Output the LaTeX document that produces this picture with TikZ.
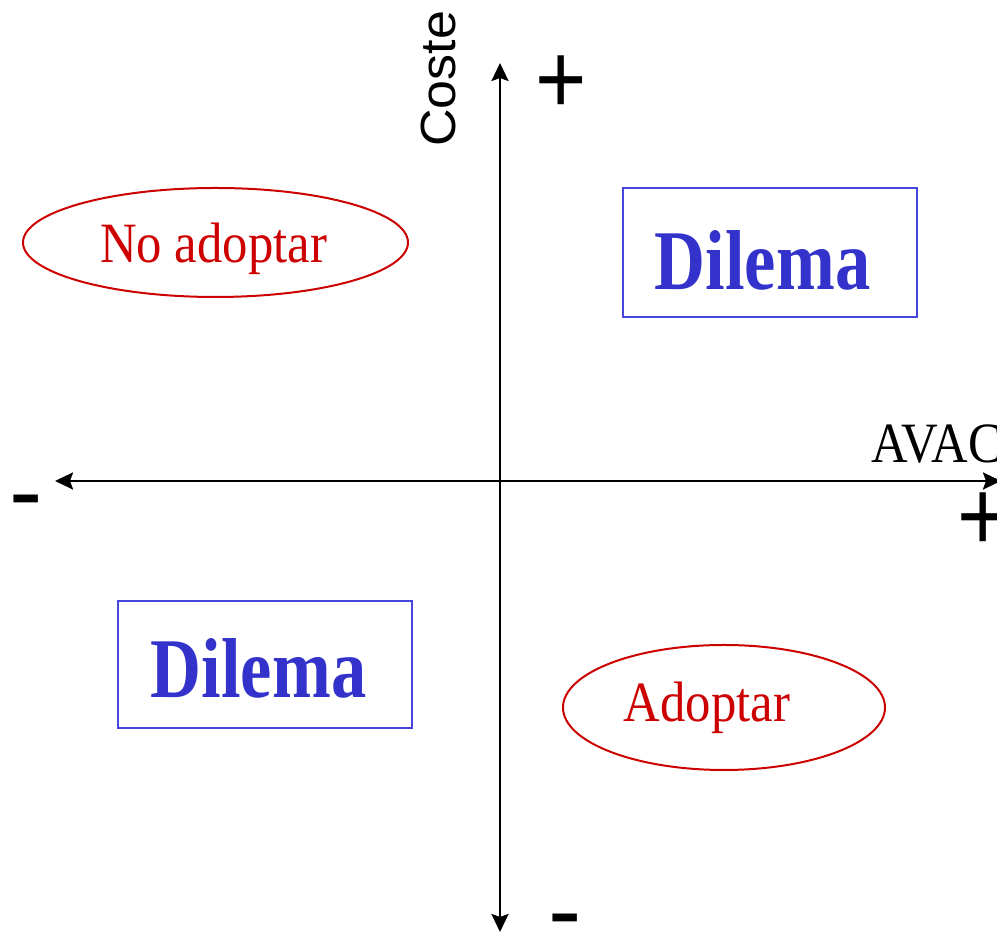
\documentclass[tikz,border=0pt]{standalone}
\usepackage{fontspec}
\setmainfont{Liberation Serif}
\newfontfamily\arialf{Liberation Sans}
\usetikzlibrary{shapes.geometric,arrows.meta}
\definecolor{myred}{RGB}{204,0,0}
\definecolor{myblue}{RGB}{51,51,204}
\definecolor{boxblue}{RGB}{70,70,220}
\begin{document}
\begin{tikzpicture}[x=1pt,y=1pt,
  axisline/.style={line width=2.6pt,black,-{Stealth[length=18pt,width=17pt,inset=3pt]}},
  bluebox/.style={draw=boxblue,line width=2.5pt,rectangle,inner sep=0pt},
  redell/.style={draw=myred,line width=2pt,ellipse,inner sep=0pt},
  dilemat/.style={inner sep=0pt,anchor=base,text=myblue,font=\bfseries\fontsize{85}{85}\selectfont},
  redt/.style={inner sep=0pt,anchor=base,text=myred,font=\fontsize{57}{57}\selectfont},
  signt/.style={inner sep=0pt,anchor=base,font=\arialf\fontsize{100}{100}\selectfont}]
\useasboundingbox (0,0) rectangle (997,934);
% axes
\coordinate (O) at (500,453);
\coordinate (L) at (55,453);
\coordinate (R) at (1001,453);
\coordinate (T) at (500,871);
\coordinate (B) at (500,2);
\draw[axisline] (O) -- (R);
\draw[axisline] (O) -- (L);
\draw[axisline] (O) -- (T);
\draw[axisline] (O) -- (B);
% labels of axes
\node[inner sep=0pt,anchor=base west,rotate=90,font=\arialf\fontsize{52}{52}\selectfont] (coste) at (455,787) {\scalebox{1}[0.95]{Coste}};
\node[inner sep=0pt,anchor=base west,font=\fontsize{57}{57}\selectfont] (avac) at (871,471) {\scalebox{0.89}[1]{AVAC}};
\node[signt] (ptop) at (561,820) {\scalebox{0.88}[1]{+}};
\node[signt] (pright) at (983,383) {\scalebox{0.88}[1]{+}};
\node[signt] (mleft) at (26.5,408) {-};
\node[signt,anchor=center] (mbot) at (565,16.5) {\raisebox{-0.272em}[0.045em][0.045em]{-}};
% boxes
\node[bluebox,minimum width=294pt,minimum height=129pt] (d1) at (770,681.5) {};
\node[dilemat] (d1t) at (762.5,644) {\scalebox{0.83}[1]{Dilema}};
\node[bluebox,minimum width=294pt,minimum height=127pt] (d2) at (265,269.5) {};
\node[dilemat] (d2t) at (258.5,236) {\scalebox{0.83}[1]{Dilema}};
% ellipses
\node[redell,minimum width=385pt,minimum height=109pt] (e1) at (215.5,691.5) {};
\node[redt] (e1t) at (213.5,671) {\scalebox{0.89}[1]{No adoptar}};
\node[redell,minimum width=322pt,minimum height=125pt] (e2) at (724,226.5) {};
\node[redt] (e2t) at (707,212) {\scalebox{0.89}[1]{Adoptar}};
\end{tikzpicture}
\end{document}
